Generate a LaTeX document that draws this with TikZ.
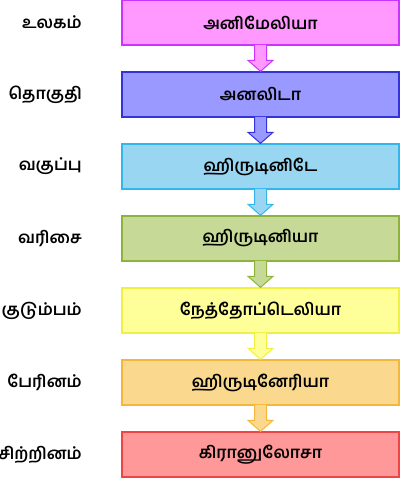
\documentclass[tikz,border=0pt]{standalone}
\usepackage{fontspec}
\usepackage{tikz}
\usetikzlibrary{positioning,calc}
\newfontfamily\tamil[Script=Tamil]{Hind Madurai}
\definecolor{kingF}{HTML}{FF99FF}\definecolor{kingD}{HTML}{CC33FF}
\definecolor{phylF}{HTML}{9999FF}\definecolor{phylD}{HTML}{3333DD}
\definecolor{clasF}{HTML}{99D6F2}\definecolor{clasD}{HTML}{33B5EE}
\definecolor{ordrF}{HTML}{C6D996}\definecolor{ordrD}{HTML}{8DB33C}
\definecolor{famiF}{HTML}{FFFF99}\definecolor{famiD}{HTML}{F0F040}
\definecolor{genuF}{HTML}{FAD98F}\definecolor{genuD}{HTML}{F5B73B}
\definecolor{specF}{HTML}{FF9999}\definecolor{specD}{HTML}{F04545}

\begin{document}
\begin{tikzpicture}
[x=1pt,y=1pt,node distance=25.7pt]
\tikzset{
	taxon/.style = {draw, line width=1.3pt, minimum width=277pt, minimum height=45pt, inner sep=0, font=\tamil\bfseries\fontsize{16.5}{18}\selectfont},
	rank/.style = {anchor=east, inner sep=0, font=\tamil\bfseries\fontsize{16.5}{18}\selectfont}
}
\useasboundingbox (0,0) rectangle (400,-478);

\node(k) [taxon, fill=kingF, draw=kingD] at (260.5,-22.5) {அனிமேலியா};
\node(p) [taxon, fill=phylF, draw=phylD, below=of k] {அனலிடா};
\node(c) [taxon, fill=clasF, draw=clasD, below=of p] {ஹிருடினிடே};
\node(o) [taxon, fill=ordrF, draw=ordrD, below=of c] {ஹிருடினியா};
\node(f) [taxon, fill=famiF, draw=famiD, below=of o] {நேத்தோப்டெலியா};
\node(g) [taxon, fill=genuF, draw=genuD, below=of f] {ஹிருடினேரியா};
\node(s) [taxon, fill=specF, draw=specD, below=of g] {கிரானுலோசா};

\node(kl) [rank] at (82,0 |- k) {உலகம்};
\node(pl) [rank] at (82,0 |- p) {தொகுதி};
\node(cl) [rank] at (82,0 |- c) {வகுப்பு};
\node(ol) [rank] at (82,0 |- o) {வரிசை};
\node(fl) [rank] at (82,0 |- f) {குடும்பம்};
\node(gl) [rank] at (82,0 |- g) {பேரினம்};
\node(sl) [rank] at (82,0 |- s) {சிற்றினம்};

\foreach \a/\b/\c in {k/p/king, p/c/phyl, c/o/clas, o/f/ordr, f/g/fami, g/s/genu}{
	\draw [fill=\c F, draw=\c D, line width=1pt, line join=miter]
		($(\a.south)+(-6,0.7)$) -- ($(\b.north)+(-6,11)$) -- ($(\b.north)+(-12.5,11)$)
		-- (\b.north) -- ($(\b.north)+(12.5,11)$) -- ($(\b.north)+(6,11)$)
		-- ($(\a.south)+(6,0.7)$);
}
\end{tikzpicture}
\end{document}
